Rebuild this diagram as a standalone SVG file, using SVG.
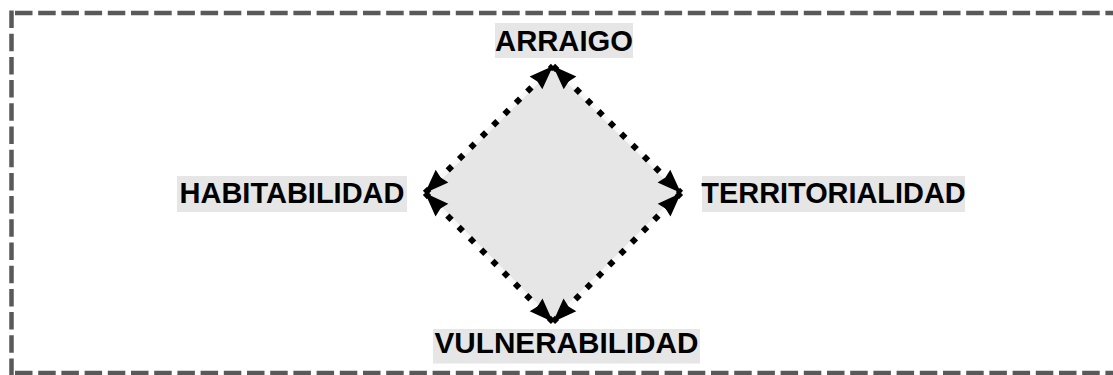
<svg xmlns="http://www.w3.org/2000/svg" width="1113" height="375" viewBox="0 0 1113 375">
<style>
.frame{stroke:#595959;stroke-width:4.5;stroke-dasharray:17.5 5.7;fill:none}
.lbl{font-family:"Liberation Sans",Arial,sans-serif;font-weight:bold;fill:#000;text-anchor:middle}
.lblbg{fill:#e6e6e6}
.edge-base{stroke:#f8f8f8;stroke-width:4;fill:none}
.edge{stroke:#000;stroke-width:6;stroke-dasharray:6 10;fill:none;marker-start:url(#ah);marker-end:url(#ah)}
</style>
<defs>
<marker id="ah" viewBox="-26 -10 27 20" refX="0" refY="0" markerWidth="27" markerHeight="20" markerUnits="userSpaceOnUse" orient="auto-start-reverse">
<path d="M0,0 L-24,-9 L-22,0 L-24,9 Z" fill="#000"/>
</marker>
</defs>
<rect width="1113" height="375" fill="#fff"/>
<g id="frame">
<line class="frame" x1="15" y1="13" x2="1113" y2="13"/>
<line class="frame" x1="11.5" y1="10.5" x2="11.5" y2="375"/>
<line class="frame" x1="15" y1="373" x2="1113" y2="373"/>
</g>
<g id="diamond">
<polygon points="553,66 681,193 553,322 425,193" fill="#e6e6e6"/>
</g>
<g id="connectors">
<polyline class="edge-base" points="553,66 681,193 553,322 425,193 553,66"/>
<line class="edge" x1="425" y1="193" x2="553" y2="66"/>
<line class="edge" x1="553" y1="66" x2="681" y2="193"/>
<line class="edge" x1="681" y1="193" x2="553" y2="322"/>
<line class="edge" x1="553" y1="322" x2="425" y2="193"/>
</g>
<g id="arraigo">
<rect class="lblbg" x="495" y="23" width="138" height="35"/>
<text class="lbl" x="564" y="50.5" font-size="29.2">ARRAIGO</text>
</g>
<g id="habitabilidad">
<rect class="lblbg" x="177" y="176" width="230" height="36"/>
<text class="lbl" x="292" y="203.3" font-size="29">HABITABILIDAD</text>
</g>
<g id="territorialidad">
<rect class="lblbg" x="702" y="176" width="263" height="36"/>
<text class="lbl" x="833.5" y="203.3" font-size="28.9">TERRITORIALIDAD</text>
</g>
<g id="vulnerabilidad">
<rect class="lblbg" x="433" y="329" width="267" height="34.5"/>
<text class="lbl" x="566.5" y="353.3" font-size="29.7">VULNERABILIDAD</text>
</g>
</svg>
